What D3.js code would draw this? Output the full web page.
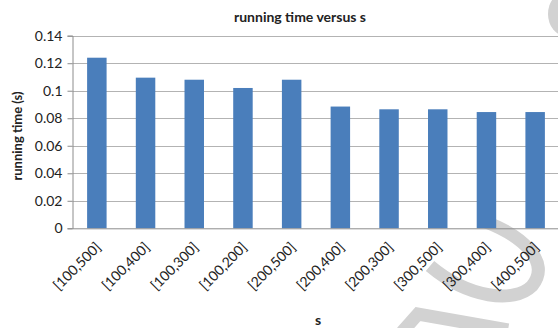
<!DOCTYPE html>
<html>
<head>
<meta charset="utf-8">
<script src="https://cdn.jsdelivr.net/npm/d3@7"></script>
<style>
  html, body { margin: 0; padding: 0; background: #fff; }
  svg { display: block; }
  text { font-family: Lato, "Open Sans", sans-serif; fill: #222; }
</style>
</head>
<body>
<svg id="chart" width="558" height="328"></svg>
<script>
// Interval pairs for s, and mean running time (seconds) for each
const categories = ["[100,500]", "[100,400]", "[100,300]", "[100,200]", "[200,500]",
                    "[200,400]", "[200,300]", "[300,500]", "[300,400]", "[400,500]"];
const runningTime = [0.124, 0.1095, 0.108, 0.102, 0.108, 0.0885, 0.0865, 0.0865, 0.0845, 0.0845];
const yTicks = [0, 0.02, 0.04, 0.06, 0.08, 0.1, 0.12, 0.14];
const yTickLabels = ["0", "0.02", "0.04", "0.06", "0.08", "0.1", "0.12", "0.14"];

const svg = d3.select("#chart");
const plot = { left: 72.5, right: 559.5, top: 35.7, bottom: 228.3 };

const x = d3.scaleBand()
  .domain(categories)
  .range([plot.left, plot.right])
  .paddingInner(0.6)
  .paddingOuter(0.3);

const y = d3.scaleLinear()
  .domain([0, 0.14])
  .range([plot.bottom, plot.top]);

// faint grey watermark strokes behind the chart
const mark = svg.append("g").attr("fill", "none").attr("stroke", "#d2d2d2");
mark.append("path")
  .attr("stroke-width", 13)
  .attr("d", "M486,222 C522,236 552,262 532,286 C514,304 468,298 430,266");
mark.append("path")
  .attr("stroke-width", 13)
  .attr("d", "M402,332 L418,314 L508,330");
mark.append("ellipse")
  .attr("cx", 566).attr("cy", 14).attr("rx", 18).attr("ry", 22)
  .attr("fill", "#d2d2d2").attr("stroke", "none");

// horizontal gridlines
svg.append("g")
  .selectAll("line")
  .data(yTicks.filter(d => d > 0))
  .join("line")
  .attr("x1", plot.left).attr("x2", plot.right)
  .attr("y1", d => Math.round(y(d)) + 0.5).attr("y2", d => Math.round(y(d)) + 0.5)
  .attr("stroke", "#b3b3b3").attr("stroke-width", 1.2);

// y axis
const yAxis = d3.axisLeft(y)
  .tickValues(yTicks)
  .tickFormat((d, i) => yTickLabels[i])
  .tickSize(5)
  .tickPadding(5);
const gy = svg.append("g")
  .attr("transform", `translate(${plot.left},0)`)
  .call(yAxis);
gy.select(".domain").attr("stroke", "#8c8c8c");
gy.selectAll(".tick line").attr("stroke", "#8c8c8c");
gy.selectAll(".tick text")
  .attr("font-size", 14).attr("font-family", "Lato, sans-serif").attr("fill", "#222");

// bars
svg.append("g")
  .selectAll("rect")
  .data(runningTime)
  .join("rect")
  .attr("x", (d, i) => x(categories[i]))
  .attr("width", x.bandwidth())
  .attr("y", d => y(d))
  .attr("height", d => y(0) - y(d))
  .attr("fill", "#4a7ebb");

// x axis
const xAxis = d3.axisBottom(x).tickSize(0).tickFormat(d => d);
const gx = svg.append("g")
  .attr("transform", `translate(0,${plot.bottom})`)
  .call(xAxis);
gx.select(".domain").attr("stroke", "#8c8c8c");
gx.selectAll(".tick text")
  .attr("font-size", 14).attr("font-family", "Lato, sans-serif").attr("fill", "#222")
  .attr("text-anchor", "end")
  .attr("dy", "0.7em")
  .attr("transform", "translate(-2,13) rotate(-45)")
  .attr("y", 0).attr("x", 0);

// titles
svg.append("text")
  .attr("x", 300).attr("y", 21.5)
  .attr("text-anchor", "middle")
  .attr("font-size", 14).attr("font-weight", "bold")
  .text("running time versus s");

svg.append("text")
  .attr("transform", "translate(22,136) rotate(-90)")
  .attr("text-anchor", "middle")
  .attr("font-size", 13).attr("font-weight", "bold")
  .text("running time (s)");

svg.append("text")
  .attr("x", 318).attr("y", 325)
  .attr("text-anchor", "middle")
  .attr("font-size", 14).attr("font-weight", "bold")
  .text("s");
</script>
</body>
</html>
